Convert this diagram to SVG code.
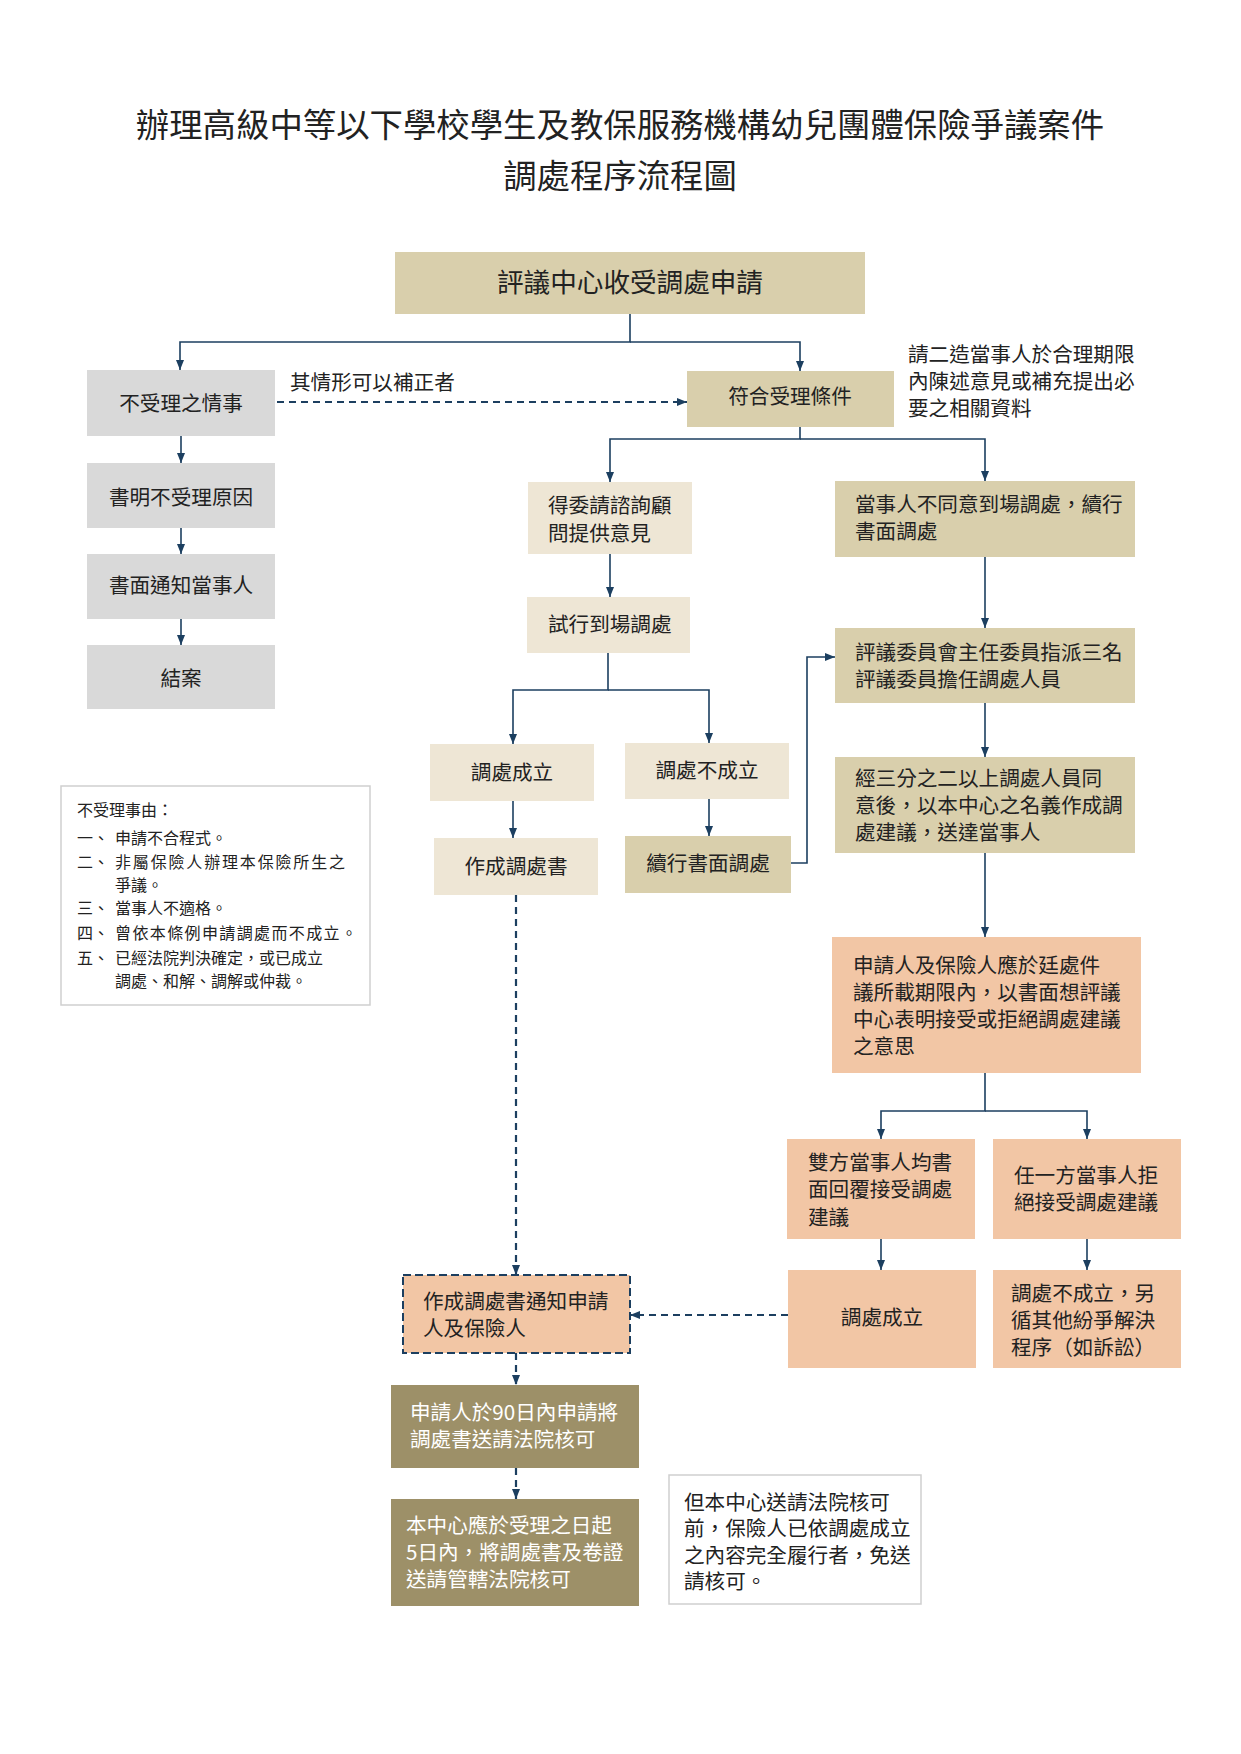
<svg xmlns="http://www.w3.org/2000/svg" width="1241" height="1754" viewBox="0 0 1241 1754">
<defs>
<style>
text{font-family:"Noto Sans CJK TC","Noto Sans CJK SC",sans-serif;fill:#222;}
.t{font-size:33.4px;text-anchor:middle;}
.m{font-size:20.6px;}
.c{text-anchor:middle;}
.big{font-size:26.6px;text-anchor:middle;}
.lg{font-size:16px;}
.w{fill:#fff;}
.tan{fill:#D9CFAC;}
.lt{fill:#EEE6D5;}
.gr{fill:#D9D9D9;}
.sa{fill:#F2C6A5;}
.ol{fill:#9D9068;}
.bx{fill:#fff;stroke:#CFCFCF;stroke-width:1.5;}
.ln{fill:none;stroke:#1C3F60;stroke-width:1.6;}
.ds{fill:none;stroke:#1C3F60;stroke-width:2.2;stroke-dasharray:7 5;}
</style>
<marker id="ar" markerUnits="userSpaceOnUse" markerWidth="10" markerHeight="10" viewBox="0 0 10 10" refX="10" refY="5" orient="auto">
<path d="M0,1 L10,5 L0,9 z" fill="#1C3F60"/>
</marker>
</defs>
<rect width="1241" height="1754" fill="#fff"/>
<g id="title">
<text class="t" x="620" y="137">辦理高級中等以下學校學生及教保服務機構幼兒團體保險爭議案件</text>
<text class="t" x="620" y="188">調處程序流程圖</text>
</g>
<g id="connectors">
<path class="ln" d="M630,314 V342 H180 V370" marker-end="url(#ar)"/>
<path class="ln" d="M630,342 H800 V371" marker-end="url(#ar)"/>
<path class="ds" d="M277,402 H687" marker-end="url(#ar)"/>
<path class="ln" d="M181,436 V463" marker-end="url(#ar)"/>
<path class="ln" d="M181,528 V554" marker-end="url(#ar)"/>
<path class="ln" d="M181,619 V645" marker-end="url(#ar)"/>
<path class="ln" d="M800,427 V439 H610 V482" marker-end="url(#ar)"/>
<path class="ln" d="M800,439 H985 V481" marker-end="url(#ar)"/>
<path class="ln" d="M610,554 V597" marker-end="url(#ar)"/>
<path class="ln" d="M608,653 V690 H513 V744" marker-end="url(#ar)"/>
<path class="ln" d="M608,690 H709 V743" marker-end="url(#ar)"/>
<path class="ln" d="M513,801 V838" marker-end="url(#ar)"/>
<path class="ln" d="M709,799 V836" marker-end="url(#ar)"/>
<path class="ln" d="M791,863 H807 V657 H835" marker-end="url(#ar)"/>
<path class="ds" d="M516,895 V1275" marker-end="url(#ar)"/>
<path class="ln" d="M985,557 V628" marker-end="url(#ar)"/>
<path class="ln" d="M985,703 V757" marker-end="url(#ar)"/>
<path class="ln" d="M985,853 V937" marker-end="url(#ar)"/>
<path class="ln" d="M985,1073 V1111 H881 V1139" marker-end="url(#ar)"/>
<path class="ln" d="M985,1111 H1087 V1139" marker-end="url(#ar)"/>
<path class="ln" d="M881,1239 V1270" marker-end="url(#ar)"/>
<path class="ln" d="M1087,1239 V1270" marker-end="url(#ar)"/>
<path class="ds" d="M788,1315 H630" marker-end="url(#ar)"/>
<path class="ds" d="M516,1353 V1385" marker-end="url(#ar)"/>
<path class="ds" d="M516,1468 V1499" marker-end="url(#ar)"/>
</g>
<g id="nA"><rect class="tan" x="395" y="252" width="470" height="62"/><text class="big" x="630" y="292">評議中心收受調處申請</text></g>
<g id="nB"><rect class="gr" x="87" y="370" width="188" height="66"/><text class="m c" x="181" y="410.5">不受理之情事</text></g>
<g id="nC"><rect class="tan" x="687" y="371" width="207" height="56"/><text class="m c" x="790" y="403.5">符合受理條件</text></g>
<g id="lbl1"><text class="m" x="290" y="389.5">其情形可以補正者</text></g>
<g id="note1"><text class="m" x="908" y="361.5"><tspan x="908">請二造當事人於合理期限</tspan><tspan x="908" dy="27">內陳述意見或補充提出必</tspan><tspan x="908" dy="27">要之相關資料</tspan></text></g>
<g id="nB2"><rect class="gr" x="87" y="463" width="188" height="65"/><text class="m c" x="181" y="504.5">書明不受理原因</text></g>
<g id="nB3"><rect class="gr" x="87" y="554" width="188" height="65"/><text class="m c" x="181" y="592.5">書面通知當事人</text></g>
<g id="nB4"><rect class="gr" x="87" y="645" width="188" height="64"/><text class="m c" x="181" y="685.5">結案</text></g>
<g id="nD"><rect class="lt" x="528" y="482" width="164" height="72"/><text class="m" x="548" y="512.5"><tspan x="548">得委請諮詢顧</tspan><tspan x="548" dy="28">問提供意見</tspan></text></g>
<g id="nE"><rect class="tan" x="835" y="481" width="300" height="76"/><text class="m" x="855" y="511.5"><tspan x="855">當事人不同意到場調處，續行</tspan><tspan x="855" dy="27">書面調處</tspan></text></g>
<g id="nF"><rect class="lt" x="527" y="597" width="163" height="56"/><text class="m" x="548" y="631.5">試行到場調處</text></g>
<g id="nG"><rect class="tan" x="835" y="628" width="300" height="75"/><text class="m" x="855" y="659.5"><tspan x="855">評議委員會主任委員指派三名</tspan><tspan x="855" dy="27">評議委員擔任調處人員</tspan></text></g>
<g id="nH"><rect class="tan" x="835" y="757" width="300" height="96"/><text class="m" x="855" y="785.5"><tspan x="855">經三分之二以上調處人員同</tspan><tspan x="855" dy="27">意後，以本中心之名義作成調</tspan><tspan x="855" dy="27">處建議，送達當事人</tspan></text></g>
<g id="nI"><rect class="lt" x="430" y="744" width="164" height="57"/><text class="m c" x="512" y="779.5">調處成立</text></g>
<g id="nJ"><rect class="lt" x="625" y="743" width="164" height="56"/><text class="m c" x="707" y="777.5">調處不成立</text></g>
<g id="nK"><rect class="lt" x="434" y="838" width="164" height="57"/><text class="m c" x="516" y="873.5">作成調處書</text></g>
<g id="nL"><rect class="tan" x="625" y="836" width="166" height="57"/><text class="m c" x="708" y="870.5">續行書面調處</text></g>
<g id="nM"><rect class="sa" x="832" y="937" width="309" height="136"/><text class="m" x="853" y="972.5"><tspan x="853">申請人及保險人應於廷處件</tspan><tspan x="853" dy="27">議所載期限內，以書面想評議</tspan><tspan x="853" dy="27">中心表明接受或拒絕調處建議</tspan><tspan x="853" dy="27">之意思</tspan></text></g>
<g id="nN"><rect class="sa" x="787" y="1139" width="188" height="100"/><text class="m" x="808" y="1169.5"><tspan x="808">雙方當事人均書</tspan><tspan x="808" dy="27.5">面回覆接受調處</tspan><tspan x="808" dy="27.5">建議</tspan></text></g>
<g id="nO"><rect class="sa" x="993" y="1139" width="188" height="100"/><text class="m" x="1014" y="1182.5"><tspan x="1014">任一方當事人拒</tspan><tspan x="1014" dy="27">絕接受調處建議</tspan></text></g>
<g id="nP"><rect class="sa" x="788" y="1270" width="188" height="98"/><text class="m c" x="882" y="1324.5">調處成立</text></g>
<g id="nQ"><rect class="sa" x="993" y="1270" width="188" height="98"/><text class="m" x="1011" y="1300.5"><tspan x="1011">調處不成立，另</tspan><tspan x="1011" dy="27">循其他紛爭解決</tspan><tspan x="1011" dy="27">程序（如訴訟）</tspan></text></g>
<g id="nR"><rect class="sa" x="403" y="1275" width="227" height="78" stroke="#1C3F60" stroke-width="2" stroke-dasharray="8 4"/><text class="m" x="423" y="1309"><tspan x="423">作成調處書通知申請</tspan><tspan x="423" dy="27">人及保險人</tspan></text></g>
<g id="nS"><rect class="ol" x="391" y="1385" width="248" height="83"/><text class="m w" x="410" y="1420"><tspan x="410">申請人於90日內申請將</tspan><tspan x="410" dy="27">調處書送請法院核可</tspan></text></g>
<g id="nT"><rect class="ol" x="391" y="1499" width="248" height="107"/><text class="m w" x="406" y="1532.5"><tspan x="406">本中心應於受理之日起</tspan><tspan x="406" dy="27">5日內，將調處書及卷證</tspan><tspan x="406" dy="27">送請管轄法院核可</tspan></text></g>
<g id="nU"><rect class="bx" x="669" y="1475" width="252" height="129"/><text class="m" x="684" y="1509.5"><tspan x="684">但本中心送請法院核可</tspan><tspan x="684" dy="26.5">前，保險人已依調處成立</tspan><tspan x="684" dy="26.5">之內容完全履行者，免送</tspan><tspan x="684" dy="26.5">請核可。</tspan></text></g>
<g id="legend">
<rect class="bx" x="61" y="786" width="309" height="219"/>
<text class="lg" x="77" y="816">不受理事由：</text>
<text class="lg" x="77" y="844">一、</text><text class="lg" x="115" y="844">申請不合程式。</text>
<text class="lg" x="77" y="868">二、</text><text class="lg" x="115" y="868"><tspan x="115" textLength="230">非屬保險人辦理本保險所生之</tspan><tspan x="115" dy="23">爭議。</tspan></text>
<text class="lg" x="77" y="914">三、</text><text class="lg" x="115" y="914">當事人不適格。</text>
<text class="lg" x="77" y="939">四、</text><text class="lg" x="115" y="939" textLength="242">曾依本條例申請調處而不成立。</text>
<text class="lg" x="77" y="964">五、</text><text class="lg" x="115" y="964"><tspan x="115">已經法院判決確定，或已成立</tspan><tspan x="115" dy="23">調處、和解、調解或仲裁。</tspan></text>
</g>
</svg>
